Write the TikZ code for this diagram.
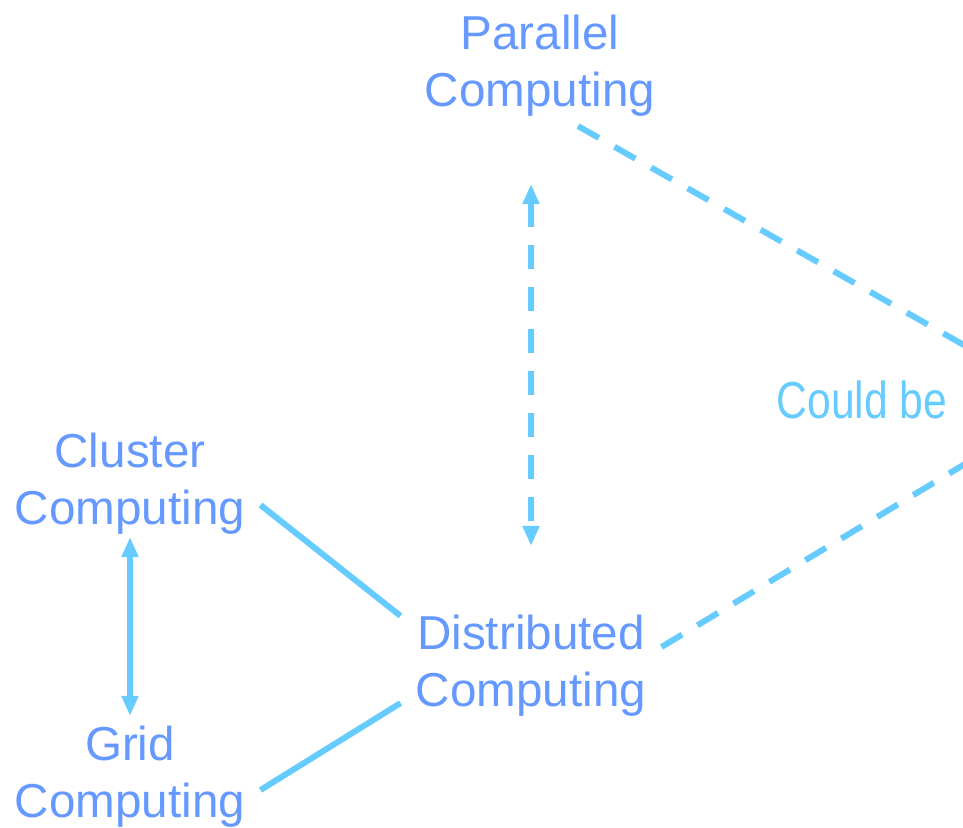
\documentclass[tikz,border=0pt]{standalone}
\usepackage{fontspec}
\setmainfont{Liberation Sans}
\newfontfamily\narrowsans[FakeStretch=0.82]{Liberation Sans}
\usepackage{xcolor}
\usetikzlibrary{arrows.meta,calc}
\definecolor{cText}{HTML}{6699FF}
\definecolor{cLine}{HTML}{66CCFF}
\tikzset{
  topic/.style={align=center,inner sep=0pt,text=cText,font=\fontsize{23.8}{28.5}\selectfont},
  link/.style={line width=3pt,color=cLine},
  dlink/.style={link,dash pattern=on 12pt off 9pt},
  both/.style={{Triangle[length=10pt,width=8pt]}-{Triangle[length=10pt,width=8pt]}},
}

\begin{document}
\begin{tikzpicture}[x=0.5pt,y=-0.5pt]
    \useasboundingbox (0,0) rectangle (963,828);
    \clip (0,0) rectangle (963,828);
    % the topics
    \node[topic] (par) at (540,66) {Parallel\\Computing};
    \node[topic] (clu) at (130,484) {Cluster\\Computing};
    \node[topic] (grid) at (130,777) {Grid\\Computing};
    \node[topic] (dist) at (531,666) {Distributed\\Computing};
    \node[anchor=base,inner sep=0pt,text=cLine,font=\narrowsans\fontsize{26}{30}\selectfont] (could) at (862,418) {Could be};
    \coordinate (hub) at (1066,403);
    % links
    \draw[link] ([shift={(15,21)}]clu.east) -- ([shift={(-15,1)}]dist.north west);
    \draw[link] ([shift={(15,13)}]grid.east) -- ([shift={(-15,-14)}]dist.south west);
    \draw[link,both,shorten <=1pt,shorten >=5pt] (clu.south) -- (grid.north);
    \draw[dlink,both,shorten <=33.5pt,shorten >=34.5pt] (par.south -| dist.north) -- (dist.north);
    \draw[dlink] ([shift={(38,9)}]par.south) -- (hub);
    \draw[dlink] ([shift={(15,-19)}]dist.east) -- (hub);
  \end{tikzpicture}
\end{document}
